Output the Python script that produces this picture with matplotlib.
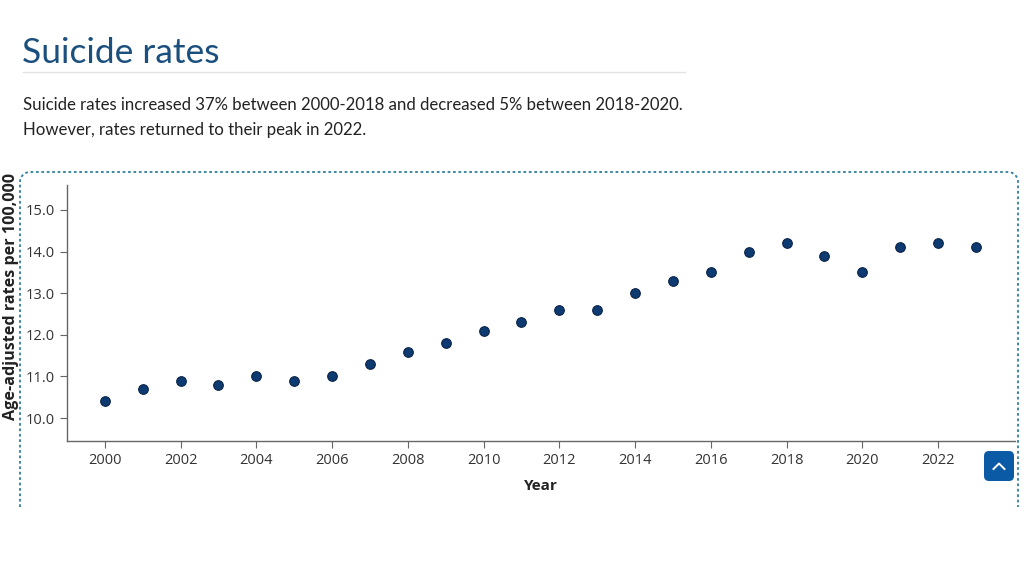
import numpy as np
import matplotlib.pyplot as plt
from matplotlib.patches import FancyBboxPatch

years = list(range(2000, 2024))
rates = [10.4, 10.7, 10.9, 10.8, 11.0, 10.9, 11.0, 11.3, 11.6, 11.8, 12.1, 12.3,
         12.6, 12.6, 13.0, 13.3, 13.5, 14.0, 14.2, 13.9, 13.5, 14.1, 14.2, 14.1]
ytick_vals = [10.0, 11.0, 12.0, 13.0, 14.0, 15.0]
xtick_vals = list(range(2000, 2023, 2))

title = "Suicide rates"
subtitle = ["Suicide rates increased 37% between 2000-2018 and decreased 5% between 2018-2020.",
            "However, rates returned to their peak in 2022."]

W, H = 1024, 576
fig = plt.figure(figsize=(W / 100, H / 100), dpi=100)

# page overlay in pixel coords
bg = fig.add_axes([0, 0, 1, 1], zorder=0)
bg.set_xlim(0, W)
bg.set_ylim(H, 0)
bg.axis("off")

bg.text(22, 53, title, fontsize=25.5, color="#1b4f7e", family="Lato",
        va="center", ha="left")
bg.plot([23, 685], [72, 72], color="#e2e2e2", lw=1)
bg.text(23, 105, subtitle[0], fontsize=12.1, color="#222222", family="Lato", va="center")
bg.text(23, 130, subtitle[1], fontsize=12.1, color="#222222", family="Lato", va="center")

# dotted rounded frame (bottom is cut off)
r = 10
t = np.linspace(0, np.pi / 2, 20)
xs = list([20] * 2) + list(20 + r - r * np.cos(t)) + list(1018 - r + r * np.sin(t)) + [1018, 1018]
ys = [507, 172 + r] + list(172 + r - r * np.sin(t)) + list(172 + r - r * np.cos(t)) + [172 + r, 507]
bg.plot(xs, ys, color="#2f7f9c", lw=1.3, ls=(0, (1.5, 1.5)))

# scroll-to-top button
btn = FancyBboxPatch((984, 451), 30, 30, boxstyle="round,pad=0,rounding_size=5",
                     fc="#0b5aa6", ec="none")
bg.add_patch(btn)
bg.plot([993.5, 999, 1004.5], [469, 463.5, 469], color="white", lw=1.4)

ax = fig.add_axes([67 / W, 1 - 441 / H, (1015 - 67) / W, (441 - 185) / H], zorder=1)
ax.patch.set_alpha(0)
ax.scatter(years, rates, s=48, color="#0e3a72", edgecolor="#0a2346", linewidth=0.8, zorder=3)
ax.set_xlim(1999.0, 2024.03)
ax.set_ylim(9.45, 15.6)
ax.set_xticks(xtick_vals)
ax.set_yticks(ytick_vals)
ax.set_yticklabels([f"{v:.1f}" for v in ytick_vals])
for s in ["top", "right"]:
    ax.spines[s].set_visible(False)
for s in ["left", "bottom"]:
    ax.spines[s].set_color("#666666")
    ax.spines[s].set_linewidth(1.0)
ax.tick_params(axis="both", colors="#666666", labelcolor="#333333", labelsize=10.5, length=5)
for lab in ax.get_xticklabels() + ax.get_yticklabels():
    lab.set_family("Open Sans")

fig.text(541 / W, 1 - 486 / H, "Year", fontsize=11, fontweight="bold", color="#222222",
         family="Open Sans", ha="center", va="center")
fig.text(11 / W, 1 - 297 / H, "Age-adjusted rates per 100,000", fontsize=11.6, fontweight="bold",
         color="#222222", family="Open Sans", ha="center", va="center", rotation=90)

fig.savefig("out.png", dpi=100)
